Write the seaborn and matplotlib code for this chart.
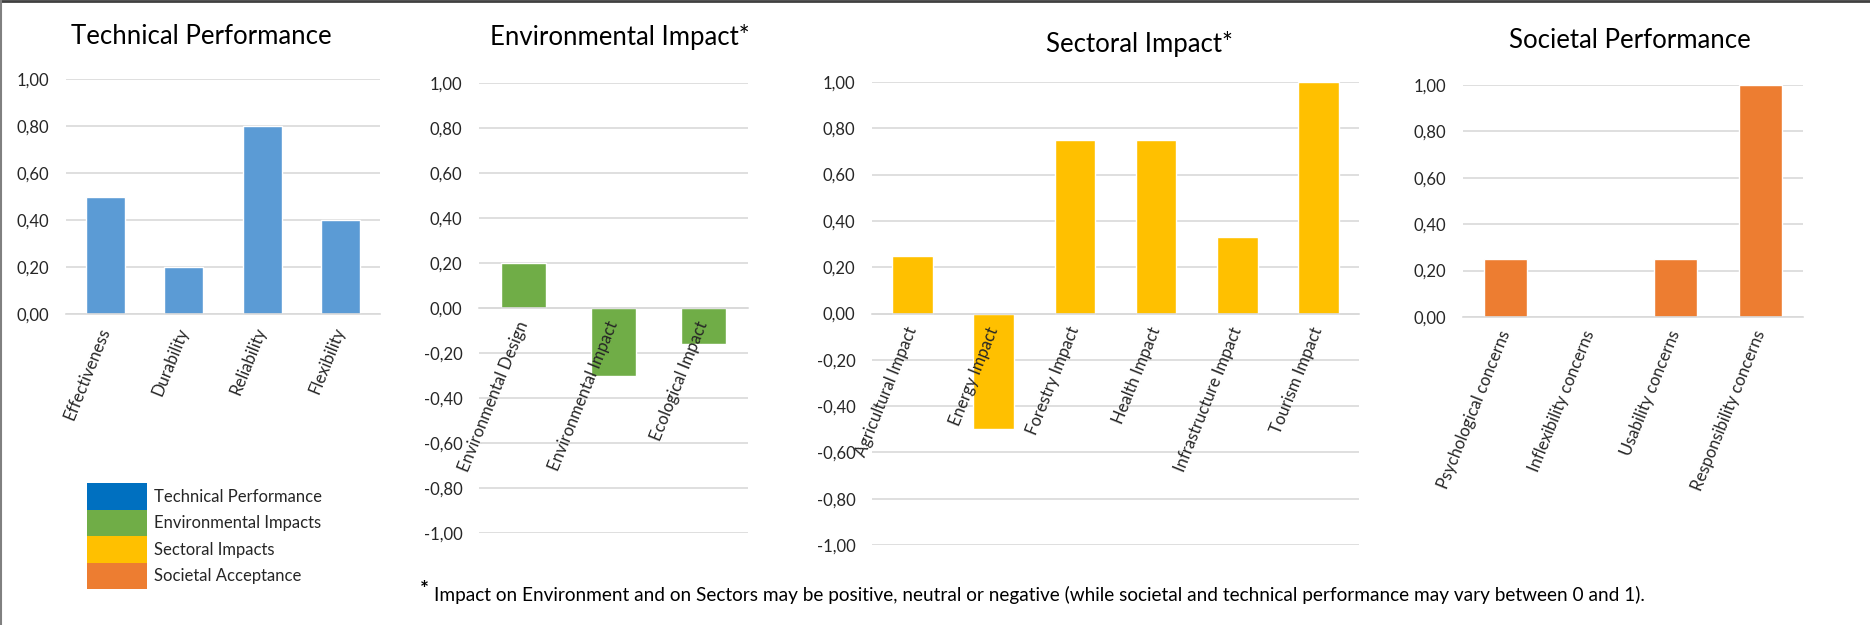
import numpy as np
import pandas as pd
import seaborn as sns
import matplotlib.pyplot as plt
from matplotlib.patches import Patch
from matplotlib.lines import Line2D
from matplotlib.ticker import FuncFormatter, FixedLocator

# chart data
tech_cats = ['Effectiveness', 'Durability', 'Reliability', 'Flexibility']
tech_vals = [0.50, 0.20, 0.80, 0.40]

env_cats = ['Environmental Design', 'Environmental Impact', 'Ecological Impact']
env_vals = [0.20, -0.30, -0.16]

sect_cats = ['Agricultural Impact', 'Energy Impact', 'Forestry Impact',
             'Health Impact', 'Infrastructure Impact', 'Tourism Impact']
sect_vals = [0.25, -0.50, 0.75, 0.75, 0.33, 1.00]

soc_cats = ['Psychological concerns', 'Inflexibility concerns',
            'Usability concerns', 'Responsibility concerns']
soc_vals = [0.25, 0.00, 0.25, 1.00]

legend_labels = ['Technical Performance', 'Environmental Impacts',
                 'Sectoral Impacts', 'Societal Acceptance']
legend_colors = ['#0070C0', '#70AD47', '#FFC000', '#ED7D31']

footnote = ('Impact on Environment and on Sectors may be positive, neutral or negative '
            '(while societal and technical performance may vary between 0 and 1).')

sns.set_style('white')
plt.rcParams['font.family'] = ['Lato', 'DejaVu Sans']

GRID = '#D9D9D9'
TXT = '#262626'

fig = plt.figure(figsize=(18.7, 6.25), dpi=100)

# panel boxes measured in pixels of the 1870x625 picture (left, right, top, bottom)
W, H = 1870, 625
def box(l, r, t, b):
    return [l / W, 1 - b / H, (r - l) / W, (b - t) / H]

panels = [
    ('Technical Performance', tech_cats, tech_vals, '#5B9BD5', (0, 1), box(66, 380, 79, 314), 37, 201),
    ('Environmental Impact*', env_cats, env_vals, '#70AD47', (-1, 1), box(479, 748, 83, 533), 37, 620),
    ('Sectoral Impact*', sect_cats, sect_vals, '#FFC000', (-1, 1), box(872, 1359, 82, 545), 44, 1139),
    ('Societal Performance', soc_cats, soc_vals, '#ED7D31', (0, 1), box(1463, 1803, 85, 317), 41, 1630),
]

# excel style numbers: 0,20 and no "-0,00"
comma = FuncFormatter(lambda v, p: f'{round(v, 2) + 0.0:.2f}'.replace('.', ','))

for title, cats, vals, col, ylim, pos, ty, tx in panels:
    ax = fig.add_axes(pos)
    df = pd.DataFrame({'cat': cats, 'val': vals})
    sns.barplot(data=df, x='cat', y='val', color=col, saturation=1, width=0.5, ax=ax)
    ax.set_ylim(*ylim)
    ax.set_xlim(-0.5, len(cats) - 0.5)
    yt = np.round(np.arange(ylim[0], ylim[1] + 0.01, 0.2), 2)
    ax.set_yticks(yt)
    ax.yaxis.set_major_formatter(comma)
    # grid behind the bars, tick labels above them
    for v in yt:
        ax.axhline(v, color=GRID, linewidth=1.2, zorder=0)
    ax.grid(False)
    ax.set_axisbelow(False)
    ax.set_xlabel('')
    ax.set_ylabel('')
    for s in ['top', 'right', 'left']:
        ax.spines[s].set_visible(False)
    ax.spines['bottom'].set_position(('data', 0))
    ax.spines['bottom'].set_color(GRID)
    ax.spines['bottom'].set_linewidth(1.2)
    ax.tick_params(axis='y', length=0, pad=12, labelsize=12, labelcolor=TXT)
    ax.tick_params(axis='x', which='major', length=0, pad=10, labelsize=12, labelcolor=TXT)
    ax.xaxis.set_minor_locator(FixedLocator(np.arange(len(cats) + 1) - 0.5))
    ax.tick_params(axis='x', which='minor', length=5, width=1.2, color=GRID, direction='out')
    ax.set_xticks(range(len(cats)))
    ax.set_xticklabels(cats, rotation=68, ha='right', va='center', rotation_mode='anchor')
    fig.text(tx / W, 1 - ty / H, title, ha='center', va='center', fontsize=18.5, color='black')

# legend block, stacked colour swatches
handles = [Patch(facecolor=c, edgecolor='none') for c in legend_colors]
leg = fig.legend(handles, legend_labels, loc='upper left', bbox_to_anchor=(87 / W, 1 - 483 / H),
                 frameon=False, fontsize=12, handlelength=3.6, handleheight=2.08,
                 labelspacing=0, handletextpad=0.4, borderpad=0, borderaxespad=0)
for t in leg.get_texts():
    t.set_color(TXT)

# footnote
fig.text(420 / W, 1 - 590 / H, '*', fontsize=15, fontweight='bold', ha='left', va='center', color='black')
fig.text(434 / W, 1 - 595 / H, footnote, fontsize=13.7, ha='left', va='center', color='black')

# screenshot frame on top and left edge
fig.add_artist(Line2D([0, 1], [0.998, 0.998], transform=fig.transFigure, color='#404040', linewidth=2))
fig.add_artist(Line2D([0.0008, 0.0008], [0, 1], transform=fig.transFigure, color='#808080', linewidth=1.5))

fig.savefig('out.png', dpi=100)
